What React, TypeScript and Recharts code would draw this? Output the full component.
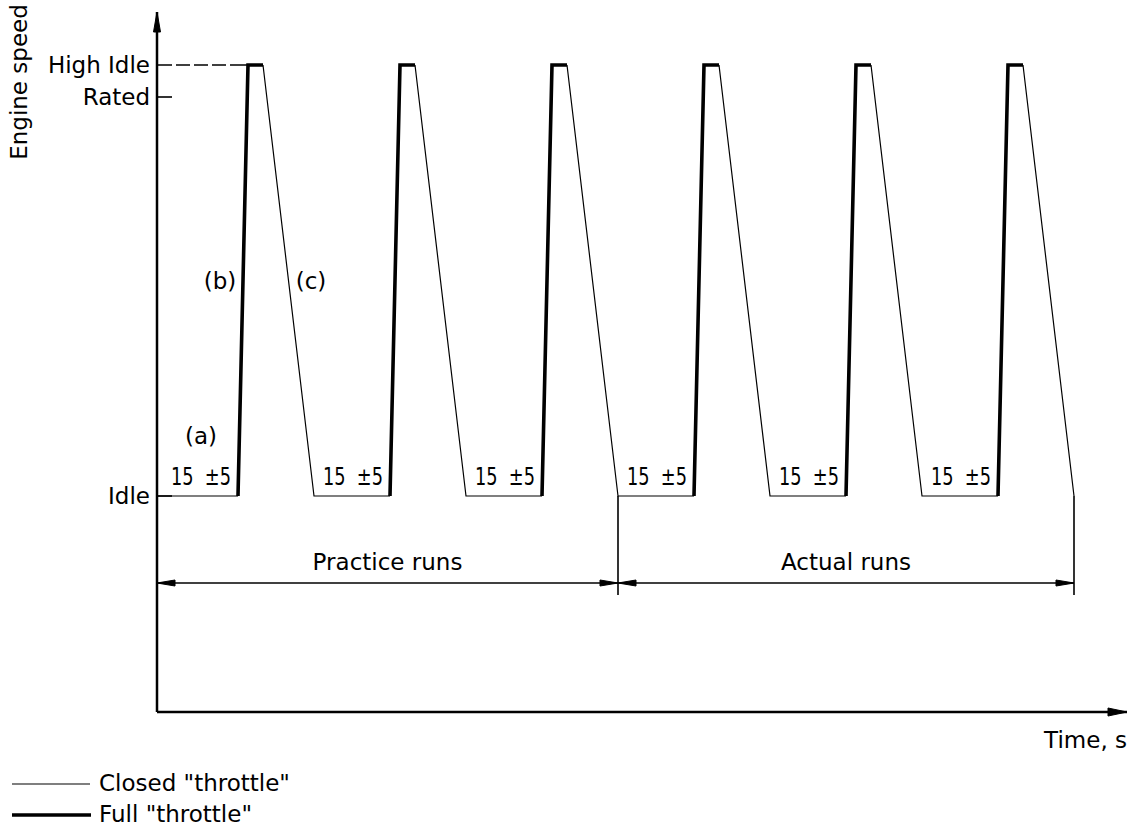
import React from 'react';
import { LineChart, Line, XAxis, YAxis, ReferenceLine, ReferenceDot } from 'recharts';

// ---- data (abstract schematic units: time on x, engine speed on y) ----
const levelNames = ['Idle', 'Rated', 'High Idle'];
const levelValues = [216, 615, 647];

// each throttle cycle: rise start, top reached, top left, back at idle
const riseStart = [81, 233, 385, 537, 689, 841];
const topStart = [91, 243, 395, 547, 699, 851];
const topEnd = [106, 258, 410, 562, 714, 866];
const declineEnd = [157, 309, 461, 613, 765, 917];

const runGroups = ['Practice runs', 'Actual runs'];
const idleNote = '15  ±5';
const cycleNotes = ['(a)', '(b)', '(c)'];
const seriesNames = ['Closed "throttle"', 'Full "throttle"'];
const xLabel = 'Time, s';
const yLabel = 'Engine speed';

const X_MAX = 970;
const Y_MAX = 700;

const IDLE = levelValues[0];
const RATED = levelValues[1];
const HIGH = levelValues[2];

// closed throttle (thin) path with breaks
const thinData: { t: number; v: number | null }[] = [{ t: 0, v: IDLE }];
riseStart.forEach((rs, k) => {
  thinData.push({ t: rs, v: IDLE });
  thinData.push({ t: (rs + topEnd[k]) / 2, v: null });
  thinData.push({ t: topEnd[k], v: HIGH });
  thinData.push({ t: declineEnd[k], v: IDLE });
});

// full throttle (thick) path with breaks
const thickData: { t: number; v: number | null }[] = [];
riseStart.forEach((rs, k) => {
  thickData.push({ t: rs, v: IDLE });
  thickData.push({ t: topStart[k], v: HIGH });
  thickData.push({ t: topEnd[k], v: HIGH });
  if (k < riseStart.length - 1) thickData.push({ t: (topEnd[k] + riseStart[k + 1]) / 2, v: null });
});

const FONT = "'DejaVu Sans', 'Liberation Sans', sans-serif";
const FS = 23;
const DIM_Y = 129;
const EXT_BOTTOM = 117;
const practiceEnd = declineEnd[2];
const actualEnd = declineEnd[declineEnd.length - 1];

const txt = (
  s: string,
  dx = 0,
  dy = 0,
  anchor: 'start' | 'middle' | 'end' = 'middle',
  extra: any = {}
) => (p: any) => (
  <text
    x={p.cx + dx}
    y={p.cy + dy}
    textAnchor={anchor}
    fontFamily={FONT}
    fontSize={FS}
    fill="#000"
    style={{ whiteSpace: 'pre' }}
    {...extra}
  >
    {s}
  </text>
);

const arrow = (dir: 'left' | 'right' | 'up', len = 18, half = 3) => (p: any) => {
  const { cx, cy } = p;
  let pts = '';
  if (dir === 'left') pts = `${cx},${cy} ${cx + len},${cy - half} ${cx + len},${cy + half}`;
  if (dir === 'right') pts = `${cx},${cy} ${cx - len},${cy - half} ${cx - len},${cy + half}`;
  if (dir === 'up') pts = `${cx},${cy} ${cx - half},${cy + len} ${cx + half},${cy + len}`;
  return <polygon points={pts} fill="#000" stroke="#000" strokeWidth={1} />;
};

const YTick = (props: any) => {
  const { x, y, payload } = props;
  const i = levelValues.indexOf(payload.value);
  return (
    <text x={x} y={y} dy={8} textAnchor="end" fontFamily={FONT} fontSize={FS} fill="#000">
      {levelNames[i]}
    </text>
  );
};

export default function App() {
  return (
    <div style={{ position: 'absolute', left: 0, top: 0, width: 1134, height: 828, background: '#fff' }}>
      <LineChart width={1134} height={828} margin={{ top: 12, right: 7, bottom: 0, left: 0 }}>
        <XAxis
          type="number"
          dataKey="t"
          domain={[0, X_MAX]}
          allowDataOverflow
          tick={false}
          tickLine={false}
          axisLine={{ stroke: '#000', strokeWidth: 2.5 }}
          height={116}
        />
        <YAxis
          type="number"
          domain={[0, Y_MAX]}
          allowDataOverflow
          ticks={levelValues}
          interval={0}
          tick={<YTick />}
          tickLine={false}
          tickSize={0}
          tickMargin={7}
          axisLine={{ stroke: '#000', strokeWidth: 2.5 }}
          width={157}
        />

        {/* level ticks on the inner side of the axis */}
        <ReferenceLine segment={[{ x: 0, y: RATED }, { x: 15, y: RATED }]} stroke="#000" strokeWidth={1.6} />
        <ReferenceLine segment={[{ x: 0, y: IDLE }, { x: 15, y: IDLE }]} stroke="#000" strokeWidth={1.6} />
        <ReferenceLine
          segment={[{ x: 0, y: HIGH }, { x: topStart[0], y: HIGH }]}
          stroke="#000"
          strokeWidth={1.6}
          strokeDasharray="15 4 14 4 14 4 14 4 40"
        />

        {/* dimension lines */}
        <ReferenceLine segment={[{ x: practiceEnd, y: IDLE }, { x: practiceEnd, y: EXT_BOTTOM }]} stroke="#000" strokeWidth={1.6} />
        <ReferenceLine segment={[{ x: actualEnd, y: IDLE }, { x: actualEnd, y: EXT_BOTTOM }]} stroke="#000" strokeWidth={1.6} />
        <ReferenceLine segment={[{ x: 0, y: DIM_Y }, { x: practiceEnd, y: DIM_Y }]} stroke="#000" strokeWidth={1.4} />
        <ReferenceLine segment={[{ x: practiceEnd, y: DIM_Y }, { x: actualEnd, y: DIM_Y }]} stroke="#000" strokeWidth={1.4} />
        <ReferenceDot x={0} y={DIM_Y} shape={arrow('left')} />
        <ReferenceDot x={practiceEnd} y={DIM_Y} shape={arrow('right')} />
        <ReferenceDot x={practiceEnd} y={DIM_Y} shape={arrow('left')} />
        <ReferenceDot x={actualEnd} y={DIM_Y} shape={arrow('right')} />

        {/* axis arrows */}
        <ReferenceDot x={0} y={Y_MAX} shape={arrow('up', 20, 3.5)} />
        <ReferenceDot x={X_MAX} y={0} shape={arrow('right', 19, 4)} />

        <Line
          data={thinData}
          dataKey="v"
          name={seriesNames[0]}
          type="linear"
          stroke="#000"
          strokeWidth={1.2}
          dot={false}
          activeDot={false}
          isAnimationActive={false}
        />
        <Line
          data={thickData}
          dataKey="v"
          name={seriesNames[1]}
          type="linear"
          stroke="#000"
          strokeWidth={3.6}
          dot={false}
          activeDot={false}
          isAnimationActive={false}
        />

        {/* annotations */}
        {riseStart.map((rs, k) => (
          <ReferenceDot
            key={'n' + k}
            x={rs - 37}
            y={IDLE}
            shape={txt(idleNote, 0, -11, 'middle', { textLength: 60, lengthAdjust: 'spacingAndGlyphs', fontSize: 25 })}
          />
        ))}
        <ReferenceDot x={riseStart[0] - 37} y={IDLE} shape={txt(cycleNotes[0], 0, -52)} />
        <ReferenceDot x={riseStart[0] - 18} y={IDLE} shape={txt(cycleNotes[1], 0, -207)} />
        <ReferenceDot x={topEnd[0] + 48} y={IDLE} shape={txt(cycleNotes[2], 0, -207)} />
        <ReferenceDot x={practiceEnd / 2} y={DIM_Y} shape={txt(runGroups[0], 0, -13)} />
        <ReferenceDot x={(practiceEnd + actualEnd) / 2} y={DIM_Y} shape={txt(runGroups[1], 0, -13)} />
        <ReferenceDot x={X_MAX} y={0} shape={txt(xLabel, 0, 36, 'end')} />
        <ReferenceDot
          x={0}
          y={Y_MAX}
          shape={(p: any) => (
            <text
              x={p.cx - 130}
              y={p.cy + 70}
              transform={`rotate(-90, ${p.cx - 130}, ${p.cy + 70})`}
              textAnchor="middle"
              fontFamily={FONT}
              fontSize={FS}
              fill="#000"
            >
              {yLabel}
            </text>
          )}
        />
      </LineChart>

      {/* legend */}
      <svg width={1134} height={828} style={{ position: 'absolute', left: 0, top: 0, pointerEvents: 'none' }}>
        <line x1={12} x2={90} y1={784} y2={784} stroke="#000" strokeWidth={1.2} />
        <text x={99} y={791} fontFamily={FONT} fontSize={FS} fill="#000">
          {seriesNames[0]}
        </text>
        <line x1={12} x2={91} y1={815} y2={815} stroke="#000" strokeWidth={3.6} />
        <text x={99} y={822} fontFamily={FONT} fontSize={FS} fill="#000">
          {seriesNames[1]}
        </text>
      </svg>
    </div>
  );
}
